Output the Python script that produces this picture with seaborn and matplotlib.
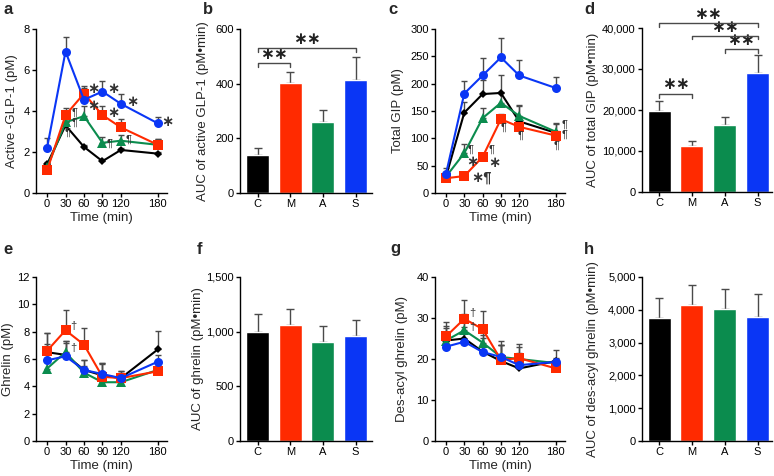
import numpy as np
import pandas as pd
import matplotlib
matplotlib.use("Agg")
import matplotlib.pyplot as plt
from matplotlib.ticker import FuncFormatter
import seaborn as sns

TIME = [0, 30, 60, 90, 120, 180]
GROUPS = ["C", "M", "A", "S"]
COLORS = {"C": "#000000", "M": "#FF2A00", "A": "#0B8C4E", "S": "#0A36F5"}
MARKERS = {"C": "D", "M": "s", "A": "^", "S": "o"}
ERR_COLOR = "#4a4a4a"

# a: active GLP-1 (pM)
glp1_mean = {"C": [1.4, 3.3, 2.25, 1.55, 2.1, 1.92],
             "M": [1.1, 3.8, 4.85, 3.8, 3.2, 2.35],
             "A": [1.25, 3.45, 3.75, 2.45, 2.55, 2.35],
             "S": [2.2, 6.9, 4.55, 4.95, 4.35, 3.4]}
glp1_err = {"C": [0.1, 0.15, 0.1, 0.1, 0.1, 0.08],
            "M": [0.1, 0.35, 0.35, 0.45, 0.4, 0.3],
            "A": [0.1, 0.3, 0.5, 0.3, 0.3, 0.3],
            "S": [0.5, 0.7, 0.55, 0.5, 0.5, 0.3]}
# b: AUC active GLP-1
auc_glp1 = [140, 403, 260, 415]
auc_glp1_err = [25, 38, 45, 83]

# c: total GIP (pM)
gip_mean = {"C": [30, 147, 181, 183, 131, 110],
            "M": [27, 31, 66, 135, 121, 105],
            "A": [30, 73, 137, 165, 141, 112],
            "S": [35, 182, 215, 248, 215, 192]}
gip_err = {"C": [5, 20, 25, 32, 30, 18],
           "M": [3, 3, 8, 10, 8, 8],
           "A": [5, 17, 18, 20, 18, 15],
           "S": [10, 23, 32, 35, 28, 20]}
# d: AUC total GIP
auc_gip = [19700, 11100, 16300, 29000]
auc_gip_err = [2600, 1400, 2100, 4300]

# e: ghrelin (pM)
ghr_mean = {"C": [6.5, 6.3, 5.2, 4.8, 4.6, 6.7],
            "M": [6.6, 8.1, 7.05, 4.7, 4.6, 5.1],
            "A": [5.3, 6.5, 5.0, 4.3, 4.3, 5.2],
            "S": [5.9, 6.2, 5.2, 4.9, 4.6, 5.8]}
ghr_err = {"C": [1.4, 1.0, 0.7, 0.9, 0.5, 1.35],
           "M": [1.3, 1.5, 1.2, 0.9, 0.4, 0.3],
           "A": [1.3, 0.8, 0.5, 0.6, 0.3, 0.4],
           "S": [1.2, 1.0, 0.7, 0.8, 0.5, 0.5]}
# f: AUC ghrelin
auc_ghr = [1000, 1060, 910, 960]
auc_ghr_err = [165, 150, 140, 145]

# g: des-acyl ghrelin (pM)
des_mean = {"C": [24.5, 25.0, 21.8, 19.5, 17.7, 19.5],
            "M": [25.5, 29.8, 27.3, 19.8, 20.2, 17.7],
            "A": [24.5, 27.0, 24.0, 20.5, 20.0, 19.0],
            "S": [23.0, 24.2, 21.7, 20.5, 18.5, 19.3]}
des_err = {"C": [3.5, 4.0, 4.0, 4.0, 3.5, 2.8],
           "M": [3.5, 4.5, 4.5, 4.5, 3.5, 0.5],
           "A": [3.0, 4.0, 4.0, 3.0, 3.0, 1.0],
           "S": [3.0, 3.5, 3.5, 3.0, 3.0, 1.0]}
# h: AUC des-acyl ghrelin
auc_des = [3750, 4150, 4020, 3770]
auc_des_err = [620, 600, 620, 700]

DRAW_ORDER = ["C", "A", "M", "S"]
FS_TICK = 8
FS_LABEL = 9.5

sns.set_theme(style="ticks")
plt.rcParams["font.family"] = ["Liberation Sans", "DejaVu Sans"]

W, H = 774, 476
fig = plt.figure(figsize=(W / 100, H / 100), dpi=100)


def add_ax(x0, x1, y0, y1):
    return fig.add_axes([x0 / W, 1 - y1 / H, (x1 - x0) / W, (y1 - y0) / H])


def style_ax(ax, ylabel, label_px):
    sns.despine(ax=ax)
    for s in ["left", "bottom"]:
        ax.spines[s].set_linewidth(1.0)
        ax.spines[s].set_color("black")
    ax.tick_params(length=3, width=1, labelsize=FS_TICK, pad=1.5, colors="black")
    ax.set_ylabel(ylabel, fontsize=FS_LABEL)
    bb = ax.get_position()
    # label anchor is its right edge, so shift from the centre by half a line
    ax.yaxis.set_label_coords(((label_px + 6) / W - bb.x0) / bb.width, 0.5)


def time_panel(ax, mean, err, ylim, yticks, ylabel, label_px):
    for g in DRAW_ORDER:
        up = np.array(err[g])
        ax.errorbar(TIME, mean[g], yerr=[np.zeros_like(up), up], fmt="none",
                    ecolor=ERR_COLOR, elinewidth=1, capsize=2, capthick=1, zorder=1)
    for g in DRAW_ORDER:
        ms = 4 if g == "C" else 6.5
        sns.lineplot(x=TIME, y=mean[g], color=COLORS[g], marker=MARKERS[g],
                     markersize=ms, markeredgewidth=0, linewidth=1.5, ax=ax, zorder=3)
    ax.set_xlim(-18, 195)
    ax.set_xticks(TIME)
    ax.set_ylim(*ylim)
    ax.set_yticks(yticks)
    ax.set_xlabel("Time (min)", fontsize=FS_LABEL, labelpad=2)
    style_ax(ax, ylabel, label_px)


def bar_panel(ax, vals, errs, ylim, yticks, ylabel, label_px, xlim, comma=False):
    sns.barplot(x=GROUPS, y=vals, hue=GROUPS, palette=COLORS, width=0.7,
                saturation=1, legend=False, ax=ax, zorder=2)
    ax.errorbar(range(4), vals, yerr=[np.zeros(4), errs], fmt="none",
                ecolor=ERR_COLOR, elinewidth=1, capsize=3, capthick=1, zorder=1)
    ax.set_xlim(*xlim)
    ax.set_ylim(*ylim)
    ax.set_yticks(yticks)
    if comma:
        ax.yaxis.set_major_formatter(FuncFormatter(lambda v, p: f"{int(v):,}"))
    style_ax(ax, ylabel, label_px)


def bracket(ax, i, j, y, drop, star_y):
    ax.plot([i, i, j, j], [y - drop, y, y, y - drop], color=ERR_COLOR, lw=1,
            clip_on=False, zorder=4)
    ax.text((i + j) / 2, star_y, "∗∗", ha="center", va="center", fontsize=12,
            fontweight="bold", color="#222222", clip_on=False)


def marks(ax, items):
    for x, y, s in items:
        if "∗" in s:
            ax.text(x, y, s, ha="left", va="center", fontsize=10.5,
                    fontweight="bold", color="#333333")
        else:
            ax.text(x, y, s, ha="left", va="center", fontsize=8, color="#333333")


# ---- row 1
ax_a = add_ax(36, 167, 29, 193)
time_panel(ax_a, glp1_mean, glp1_err, (0, 8), [0, 2, 4, 6, 8],
           "Active -GLP-1 (pM)", 12)
marks(ax_a, [(66, 5.05, "∗"), (66, 4.25, "∗"), (98, 5.05, "∗"), (128, 4.45, "∗"),
             (186, 3.45, "∗"), (98, 3.9, "∗"),
             (40, 3.9, "¶"), (40, 3.45, "¶"), (28, 2.95, "¶"),
             (96, 2.4, "¶"), (127, 2.6, "¶")])

ax_b = add_ax(240, 372, 29, 193)
bar_panel(ax_b, auc_glp1, auc_glp1_err, (0, 600), [0, 200, 400, 600],
          "AUC of active GLP-1 (pM•min)", 203, (-0.535, 3.5))
bracket(ax_b, 0, 1, 475, 15, 505)
bracket(ax_b, 0, 3, 530, 15, 560)

ax_c = add_ax(435, 565, 29, 193)
time_panel(ax_c, gip_mean, gip_err, (0, 300), [0, 50, 100, 150, 200, 250, 300],
           "Total GIP (pM)", 398)
marks(ax_c, [(36, 80, "¶"), (33, 56, "∗"), (42, 29, "∗¶"), (70, 79, "¶"),
             (70, 55, "∗"), (90, 119, "¶"), (118, 104, "¶"),
             (190, 124, "¶"), (190, 106, "¶"), (176, 86, "¶")])

ax_d = add_ax(642, 772, 28, 192)
bar_panel(ax_d, auc_gip, auc_gip_err, (0, 40000), [0, 10000, 20000, 30000, 40000],
          "AUC of total GIP (pM•min)", 593, (-0.52, 3.44), comma=True)
bracket(ax_d, 0, 1, 23900, 900, 26200)
bracket(ax_d, 0, 3, 41200, 900, 43300)
bracket(ax_d, 1, 3, 38100, 900, 40200)
bracket(ax_d, 2, 3, 34900, 900, 37000)

# ---- row 2
ax_e = add_ax(36, 167, 277, 441)
time_panel(ax_e, ghr_mean, ghr_err, (0, 12), [0, 2, 4, 6, 8, 10, 12],
           "Ghrelin (pM)", 8)
marks(ax_e, [(38, 8.4, "†"), (38, 6.8, "†")])

ax_f = add_ax(240, 372, 277, 441)
bar_panel(ax_f, auc_ghr, auc_ghr_err, (0, 1500), [0, 500, 1000, 1500],
          "AUC of ghrelin (pM•min)", 198, (-0.535, 3.5), comma=True)

ax_g = add_ax(435, 565, 277, 441)
time_panel(ax_g, des_mean, des_err, (0, 40), [0, 10, 20, 30, 40],
           "Des-acyl ghrelin (pM)", 402)
marks(ax_g, [(38, 31.2, "†"), (38, 27.8, "†")])

ax_h = add_ax(642, 772, 277, 441)
bar_panel(ax_h, auc_des, auc_des_err, (0, 5000), [0, 1000, 2000, 3000, 4000, 5000],
          "AUC of des-acyl ghrelin (pM•min)", 593, (-0.52, 3.44), comma=True)

# panel letters
for letter, x, y in [("a", 3, 10), ("b", 203, 10), ("c", 388, 10), ("d", 584, 10),
                     ("e", 3, 249), ("f", 197, 249), ("g", 390, 249), ("h", 584, 249)]:
    fig.text(x / W, 1 - y / H, letter, fontsize=12, fontweight="bold",
             ha="left", va="center")

fig.savefig("out.png", dpi=100)
